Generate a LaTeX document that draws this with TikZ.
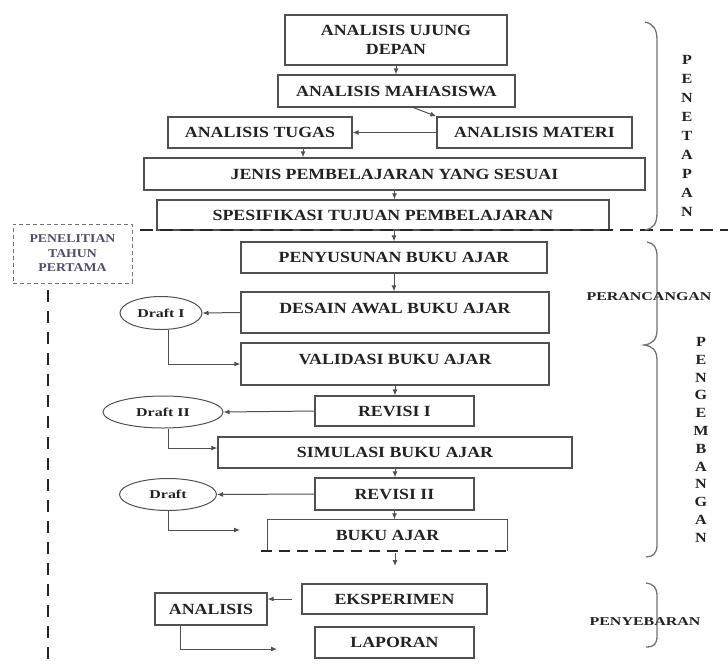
\documentclass[tikz,border=0pt]{standalone}
\usepackage{fontspec}
\setmainfont{Liberation Serif}
\newfontfamily\boxfont{Liberation Serif}[FakeStretch=1.15]
\newfontfamily\smallfont{Liberation Serif}[FakeStretch=1.33]
\usetikzlibrary{arrows.meta,shapes.geometric}
\definecolor{linegray}{HTML}{505050}
\definecolor{textgray}{HTML}{222222}
\definecolor{notecol}{HTML}{524C6A}
\tikzset{
  box/.style={draw=linegray, line width=1.3pt, inner sep=0pt, text=textgray, align=center,
    font=\boxfont\bfseries\fontsize{15.5}{19}\selectfont},
  draft/.style={ellipse, draw=linegray, line width=1pt, inner sep=0pt, text=textgray,
    font=\smallfont\bfseries\fontsize{12}{14}\selectfont},
  link/.style={draw=linegray, line width=1pt, -{Latex[length=6pt,width=5pt]}},
  sep/.style={draw=black!85, line width=2.6pt, dash pattern=on 13pt off 7pt},
  brace/.style={draw=linegray!80, line width=1.3pt},
  phase/.style={text=textgray, inner sep=0pt, font=\smallfont\bfseries\fontsize{12}{14}\selectfont},
  vlet/.style={text=textgray, inner sep=0pt, font=\boxfont\bfseries\fontsize{14}{16}\selectfont}
}
\begin{document}
\begin{tikzpicture}[x=1pt,y=-1pt]
  \useasboundingbox (0,0) rectangle (728,665);
  \node[box, minimum width=222, minimum height=50] (ujung) at (396,40) {ANALISIS UJUNG\\DEPAN};
  \node[box, minimum width=237, minimum height=32] (mhs) at (396.5,91) {ANALISIS MAHASISWA};
  \node[box, minimum width=184, minimum height=31] (tugas) at (260,132.5) {ANALISIS TUGAS};
  \node[box, minimum width=195, minimum height=31] (materi) at (534.5,132.5) {ANALISIS MATERI};
  \node[box, minimum width=501, minimum height=32] (jenis) at (394.5,174) {JENIS PEMBELAJARAN YANG SESUAI};
  \node[box, minimum width=452, minimum height=30] (spes) at (383,215) {SPESIFIKASI TUJUAN PEMBELAJARAN};
  \node[box, minimum width=306, minimum height=31] (susun) at (394,257.5) {PENYUSUNAN BUKU AJAR};
  \node[box, minimum width=308, minimum height=41, text depth=9pt] (desain) at (395,312.5) {DESAIN AWAL BUKU AJAR};
  \node[box, minimum width=308, minimum height=42, text depth=9pt] (validasi) at (395,364) {VALIDASI BUKU AJAR};
  \node[box, minimum width=159, minimum height=30] (rev1) at (394.5,411) {REVISI I};
  \node[box, minimum width=354, minimum height=31] (simulasi) at (395,452.5) {SIMULASI BUKU AJAR};
  \node[box, minimum width=159, minimum height=32] (rev2) at (394.5,494) {REVISI II};
  \node[box, draw=none, minimum width=239, minimum height=30] (buku) at (387.5,535) {BUKU AJAR};
  \node[box, minimum width=185, minimum height=30] (eksp) at (394.5,599) {EKSPERIMEN};
  \node[box, minimum width=112, minimum height=32] (analisis) at (211,609) {ANALISIS};
  \node[box, minimum width=159, minimum height=31] (laporan) at (394.5,642.5) {LAPORAN};

  \node[draft, minimum width=82, minimum height=33] (draft1) at (161,313) {Draft I};
  \node[draft, minimum width=120, minimum height=32] (draft2) at (163,412) {Draft II};
  \node[draft, minimum width=97, minimum height=32] (draft3) at (168,494.5) {Draft};

  \node[draw=linegray!80, line width=1pt, dash pattern=on 4pt off 3pt, minimum width=119, minimum height=59,
    inner sep=0pt, align=center, text=notecol, font=\boxfont\bfseries\fontsize{12}{14.5}\selectfont]
    (tahun) at (72.5,253.5) {PENELITIAN\\TAHUN\\PERTAMA};

  \coordinate (bukuin) at (240,530);
  \coordinate (lapin) at (277,649);
  \coordinate (ekspa) at (395,553);
  \coordinate (ekspb) at (395,566);

  \draw[link] (ujung.south) -- (ujung.south |- mhs.north);
  \draw[link] ([xshift=17]mhs.south) -- (materi.north west);
  \draw[link] (materi.west) -- (tugas.east);
  \draw[link] ([xshift=43]tugas.south) -- ([xshift=43]tugas.south |- jenis.north);
  \draw[link] (jenis.south) -- (jenis.south |- spes.north);
  \draw[link] (susun.north |- spes.south) -- (susun.north);
  \draw[link] (susun.south) -- (susun.south |- desain.north);
  \draw[link] (desain.west) -- (draft1.east);
  \draw[link] ([xshift=7]draft1.south) |- (validasi.west);
  \draw[link] (validasi.south) -- (validasi.south |- rev1.north);
  \draw[link] (rev1.west) -- (draft2.east);
  \draw[link] ([xshift=5]draft2.south) |- ([yshift=4.5]simulasi.west);
  \draw[link] (simulasi.south) -- (simulasi.south |- rev2.north);
  \draw[link] (rev2.west) -- (draft3.east);
  \draw[link] (draft3.south) |- (bukuin);
  \draw[link] (rev2.south) -- (rev2.south |- buku.north);
  \draw[link] (ekspa) -- (ekspb);
  \draw[link, shorten <=9pt] (eksp.west) -- (eksp.west -| analisis.east);
  \draw[link] ([xshift=-31]analisis.south) |- (lapin);

  \draw[draw=linegray, line width=1.3pt] (buku.south west) -- (buku.north west) -- (buku.north east) -- (buku.south east);
  \draw[sep, line width=2.2pt, dash pattern=on 11pt off 7pt] ([xshift=-6]buku.south west) -- ([xshift=3]buku.south east);
  \draw[sep] (140,230) -- (728,230);
  \draw[sep, dash pattern=on 12pt off 9pt] (48,290) -- (48,665);

  \draw[brace] (645,22) .. controls (654,24) and (657,30) .. (657,40) -- (657,212)
    .. controls (657,224) and (654,228) .. (645,230);
  \draw[brace] (647,242) .. controls (654,243) and (657,248) .. (657,256) -- (657,330)
    .. controls (657,340) and (652,344) .. (644,345) .. controls (652,346) and (657,350) .. (657,360)
    -- (657,545) .. controls (657,553) and (653,557) .. (646,557);
  \draw[brace] (646,583) .. controls (654,584) and (657,588) .. (657,596) -- (657,636)
    .. controls (657,644) and (654,647) .. (646,647);

  \node[phase] (rancang) at (649,297) {PERANCANGAN};
  \node[phase] (sebar) at (645,622) {PENYEBARAN};
  \foreach \c [count=\i] in {P,E,N,E,T,A,P,A,N}
    \node[vlet] (tetap\i) at (687,41+19*\i) {\c};
  \foreach \c [count=\i] in {P,E,N,G,E,M,B,A,N,G,A,N}
    \node[vlet] (kembang\i) at (701,324.2+17.8*\i) {\c};
\end{tikzpicture}
\end{document}
